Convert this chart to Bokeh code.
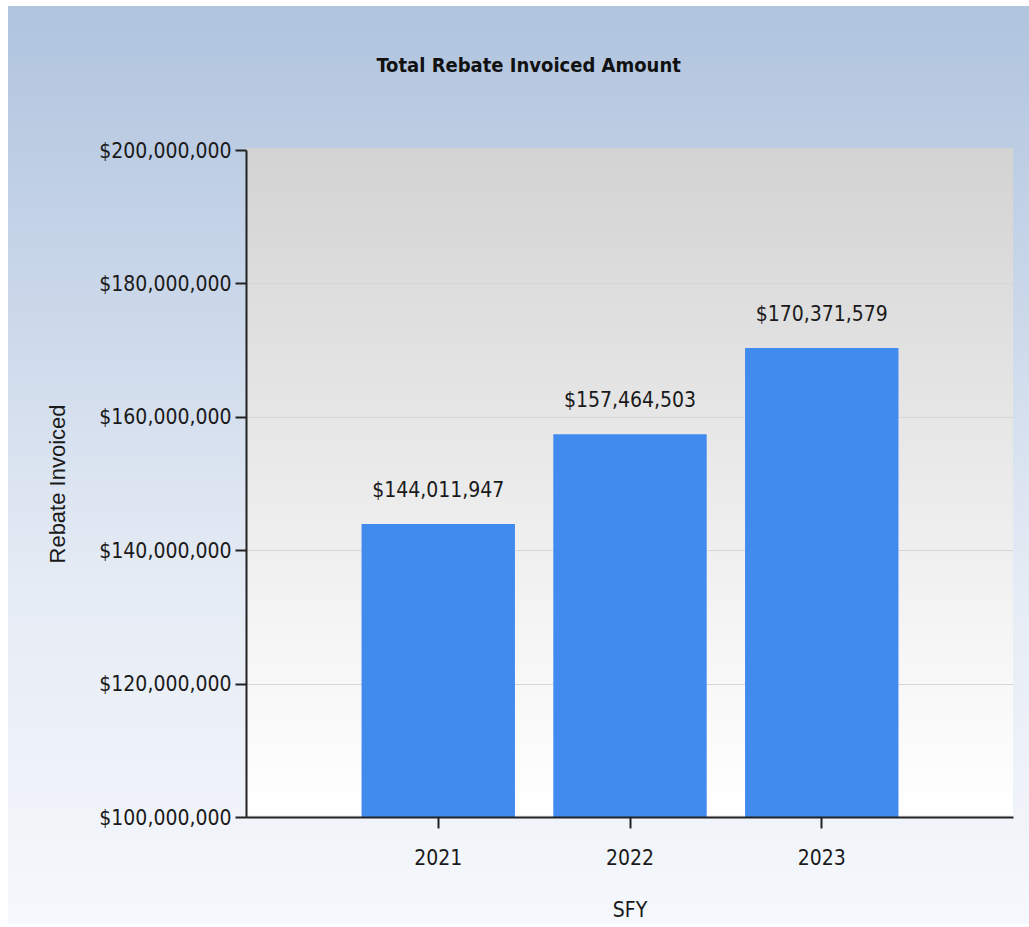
from bokeh.plotting import figure
from bokeh.models import ColumnDataSource, FactorRange, NumeralTickFormatter, LabelSet, SingleIntervalTicker
from bokeh.core.properties import value
from bokeh.embed import file_html
from bokeh.resources import INLINE

title_text = "Total Rebate Invoiced Amount"
years = ["2021", "2022", "2023"]
amounts = [144011947, 157464503, 170371579]
labels = ["${:,}".format(v) for v in amounts]
y_start, y_end, y_step = 100_000_000, 200_000_000, 20_000_000

NARROW = "DejaVu Sans Condensed"
REG = "Liberation Sans"

src = ColumnDataSource(dict(year=years, amount=amounts, label=labels))

outer_bg = ("linear-gradient(to bottom, #ffffff 0px, #ffffff 30px, #b0c4de 30px, "
            "#cbd8ea 35%, #e6ecf5 65%, #f5f8fc 100%)")
frame_bg = ("linear-gradient(to bottom, #d3d3d3 0%, #e6e6e6 40%, #f6f6f6 75%, #ffffff 100%) "
            "238px 172px / 767px 667px no-repeat")

p = figure(
    x_range=FactorRange(factors=years, range_padding=1/3),
    y_range=(y_start, y_end),
    width=1021, height=946,
    frame_width=767, frame_height=667,
    min_border_left=238, min_border_right=16, min_border_top=0, min_border_bottom=107,
    output_backend="svg", toolbar_location=None,
    title=title_text,
    styles={"margin-left": "8px", "margin-top": "-24px", "background": frame_bg + ", " + outer_bg},
)
p.border_fill_color = None
p.background_fill_color = None
p.outline_line_color = None

p.title.align = "left"
p.title.offset = 130
p.title.standoff = 148
p.title.text_font = NARROW
p.title.text_font_size = "20px"
p.title.text_font_style = "bold"
p.title.text_color = "#111111"

p.vbar(x="year", top="amount", bottom=0, width=0.8, source=src,
       fill_color="#418bef", line_color=None)

p.add_layout(LabelSet(x="year", y="amount", text="label", source=src,
                      text_align="center", text_baseline="bottom", y_offset=22,
                      text_font=value(NARROW), text_font_size="21px", text_color="#1a1a1a"))

p.yaxis.ticker = SingleIntervalTicker(interval=y_step)
p.yaxis.formatter = NumeralTickFormatter(format="$0,0")
for ax in (p.xaxis, p.yaxis):
    ax.axis_line_color = "#222222"
    ax.axis_line_width = 2
    ax.major_tick_line_color = "#222222"
    ax.major_tick_line_width = 2
    ax.major_tick_in = 0
    ax.major_tick_out = 11
    ax.minor_tick_line_color = None
    ax.major_label_text_font = NARROW
    ax.major_label_text_font_size = "21px"
    ax.major_label_text_color = "#1a1a1a"

p.yaxis.major_label_standoff = 4
p.yaxis.axis_label = "Rebate Invoiced"
p.yaxis.axis_label_text_font = REG
p.yaxis.axis_label_text_font_size = "22px"
p.yaxis.axis_label_text_font_style = "normal"
p.yaxis.axis_label_text_color = "#1a1a1a"
p.yaxis.axis_label_standoff = 26

p.xaxis.major_label_standoff = 20
p.xaxis.axis_label = "SFY"
p.xaxis.axis_label_text_font = NARROW
p.xaxis.axis_label_text_font_size = "21px"
p.xaxis.axis_label_text_font_style = "normal"
p.xaxis.axis_label_text_color = "#1a1a1a"
p.xaxis.axis_label_standoff = 30

p.xgrid.grid_line_color = None
p.ygrid.grid_line_color = "#d6d6d6"
p.ygrid.grid_line_width = 1

open("out.html", "w").write(file_html(p, INLINE))
